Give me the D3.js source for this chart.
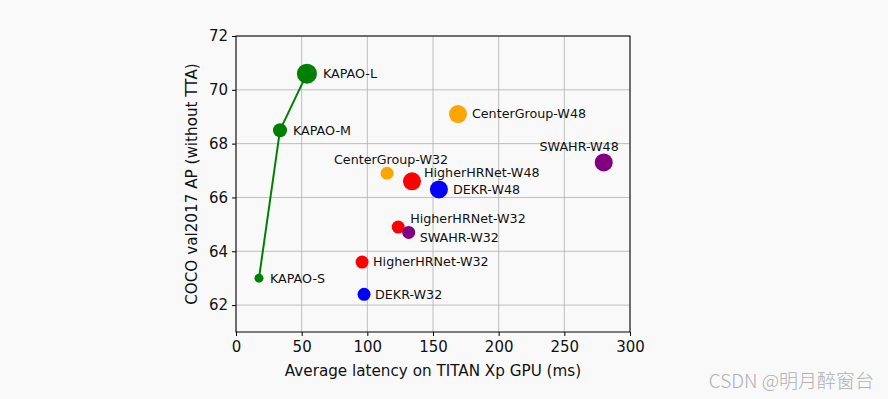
<!DOCTYPE html>
<html>
<head>
<meta charset="utf-8">
<script src="https://cdn.jsdelivr.net/npm/d3@7"></script>
<style>
  body { margin: 0; background: #f9f9f9; }
  svg { display: block; font-family: "DejaVu Sans", sans-serif; }
</style>
</head>
<body>
<div id="chart"></div>
<script>
// Models and their values
const names = ['KAPAO-S', 'KAPAO-M', 'KAPAO-L', 'CenterGroup-W32', 'CenterGroup-W48',
    'HigherHRNet-W32', 'HigherHRNet-W32b', 'HigherHRNet-W48', 'DEKR-W32', 'DEKR-W48',
    'SWAHR-W32', 'SWAHR-W48'];
const labels = ['KAPAO-S', 'KAPAO-M', 'KAPAO-L', 'CenterGroup-W32', 'CenterGroup-W48',
    'HigherHRNet-W32', 'HigherHRNet-W32', 'HigherHRNet-W48', 'DEKR-W32', 'DEKR-W48',
    'SWAHR-W32', 'SWAHR-W48'];
const latency = [17.5, 33.5, 54, 115, 169, 96, 123.5, 134, 97.5, 154.5, 131.5, 280];
const ap = [63.0, 68.5, 70.6, 66.9, 69.1, 63.6, 64.9, 66.6, 62.4, 66.3, 64.7, 67.3];
const family = ['kapao', 'kapao', 'kapao', 'centergroup', 'centergroup',
    'higherhrnet', 'higherhrnet', 'higherhrnet', 'dekr', 'dekr', 'swahr', 'swahr'];

const xTicks = [0, 50, 100, 150, 200, 250, 300];
const yTicks = [62, 64, 66, 68, 70, 72];

// Styling
const colors = { kapao: '#008000', centergroup: '#ffa500', higherhrnet: '#ff0000', dekr: '#0000ff', swahr: '#800080' };
const radius = {
    'KAPAO-S': 4.5, 'KAPAO-M': 7, 'KAPAO-L': 10,
    'CenterGroup-W32': 6.5, 'CenterGroup-W48': 9,
    'HigherHRNet-W32': 6.5, 'HigherHRNet-W32b': 6.5, 'HigherHRNet-W48': 9,
    'DEKR-W32': 6.5, 'DEKR-W48': 9, 'SWAHR-W32': 6.5, 'SWAHR-W48': 9
};
// label offsets in px relative to the marker
const labelPos = {
    'KAPAO-S': [11, 0, 'start'], 'KAPAO-M': [13, 0, 'start'], 'KAPAO-L': [16, 0, 'start'],
    'CenterGroup-W32': [4, -14, 'middle'], 'CenterGroup-W48': [14, 0, 'start'],
    'HigherHRNet-W32': [11, 0, 'start'], 'HigherHRNet-W32b': [12, -8, 'start'],
    'HigherHRNet-W48': [12, -9, 'start'], 'DEKR-W32': [11, 0, 'start'],
    'DEKR-W48': [14, 0, 'start'], 'SWAHR-W32': [11, 5, 'start'], 'SWAHR-W48': [15, -16, 'end']
};

const width = 888, height = 399;
const margin = { left: 236, right: 258, top: 36, bottom: 67 };

const svg = d3.select('#chart').append('svg')
    .attr('width', width)
    .attr('height', height);

svg.append('rect').attr('width', width).attr('height', height).attr('fill', '#f9f9f9');

const x = d3.scaleLinear().domain([0, 300]).range([margin.left, width - margin.right]);
const y = d3.scaleLinear().domain([61, 72]).range([height - margin.bottom, margin.top]);

// Grid
const grid = svg.append('g').attr('stroke', '#b0b0b0').attr('stroke-width', 0.8);
grid.selectAll('.gx').data(xTicks).join('line')
    .attr('x1', d => x(d)).attr('x2', d => x(d))
    .attr('y1', y.range()[0]).attr('y2', y.range()[1]);
grid.selectAll('.gy').data(yTicks).join('line')
    .attr('y1', d => y(d)).attr('y2', d => y(d))
    .attr('x1', x.range()[0]).attr('x2', x.range()[1]);

// KAPAO line
const data = names.map((n, i) => ({ name: n, label: labels[i], x: latency[i], y: ap[i], fam: family[i] }));
const kapao = data.filter(d => d.fam === 'kapao');
svg.append('path')
    .datum(kapao)
    .attr('fill', 'none')
    .attr('stroke', colors.kapao)
    .attr('stroke-width', 2)
    .attr('d', d3.line().x(d => x(d.x)).y(d => y(d.y)));

// Markers
svg.append('g').selectAll('circle').data(data).join('circle')
    .attr('cx', d => x(d.x))
    .attr('cy', d => y(d.y))
    .attr('r', d => radius[d.name])
    .attr('fill', d => colors[d.fam]);

// Labels
svg.append('g').selectAll('text').data(data).join('text')
    .attr('x', d => x(d.x) + labelPos[d.name][0])
    .attr('y', d => y(d.y) + labelPos[d.name][1])
    .attr('dy', '0.35em')
    .attr('text-anchor', d => labelPos[d.name][2])
    .attr('font-size', '12.7px')
    .attr('fill', '#111')
    .text(d => d.label);

// Axes
const xAxis = svg.append('g')
    .attr('transform', `translate(0,${y.range()[0]})`)
    .call(d3.axisBottom(x).tickValues(xTicks).tickSize(4).tickPadding(5));
const yAxis = svg.append('g')
    .attr('transform', `translate(${x.range()[0]},0)`)
    .call(d3.axisLeft(y).tickValues(yTicks).tickSize(4).tickPadding(4));
[xAxis, yAxis].forEach(a => {
    a.select('.domain').remove();
    a.selectAll('text').attr('font-size', '15px').attr('fill', '#111').attr('font-family', '"DejaVu Sans", sans-serif');
    a.selectAll('line').attr('stroke', '#000');
});

// Frame
svg.append('rect')
    .attr('x', x.range()[0]).attr('y', y.range()[1])
    .attr('width', x.range()[1] - x.range()[0])
    .attr('height', y.range()[0] - y.range()[1])
    .attr('fill', 'none').attr('stroke', '#000').attr('stroke-width', 1);

// Axis titles
svg.append('text')
    .attr('x', (x.range()[0] + x.range()[1]) / 2)
    .attr('y', 376)
    .attr('text-anchor', 'middle')
    .attr('font-size', '15.2px')
    .attr('fill', '#111')
    .text('Average latency on TITAN Xp GPU (ms)');
svg.append('text')
    .attr('transform', `translate(197,${(y.range()[0] + y.range()[1]) / 2}) rotate(-90)`)
    .attr('text-anchor', 'middle')
    .attr('font-size', '15.2px')
    .attr('fill', '#111')
    .text('COCO val2017 AP (without TTA)');

// Watermark
svg.append('text')
    .attr('x', 874).attr('y', 388)
    .attr('text-anchor', 'end')
    .attr('font-size', '19px')
    .attr('font-weight', 300)
    .attr('font-family', '"Noto Sans CJK SC", sans-serif')
    .attr('fill', '#b0b0b0')
    .text('CSDN @明月醉窗台');
</script>
</body>
</html>
